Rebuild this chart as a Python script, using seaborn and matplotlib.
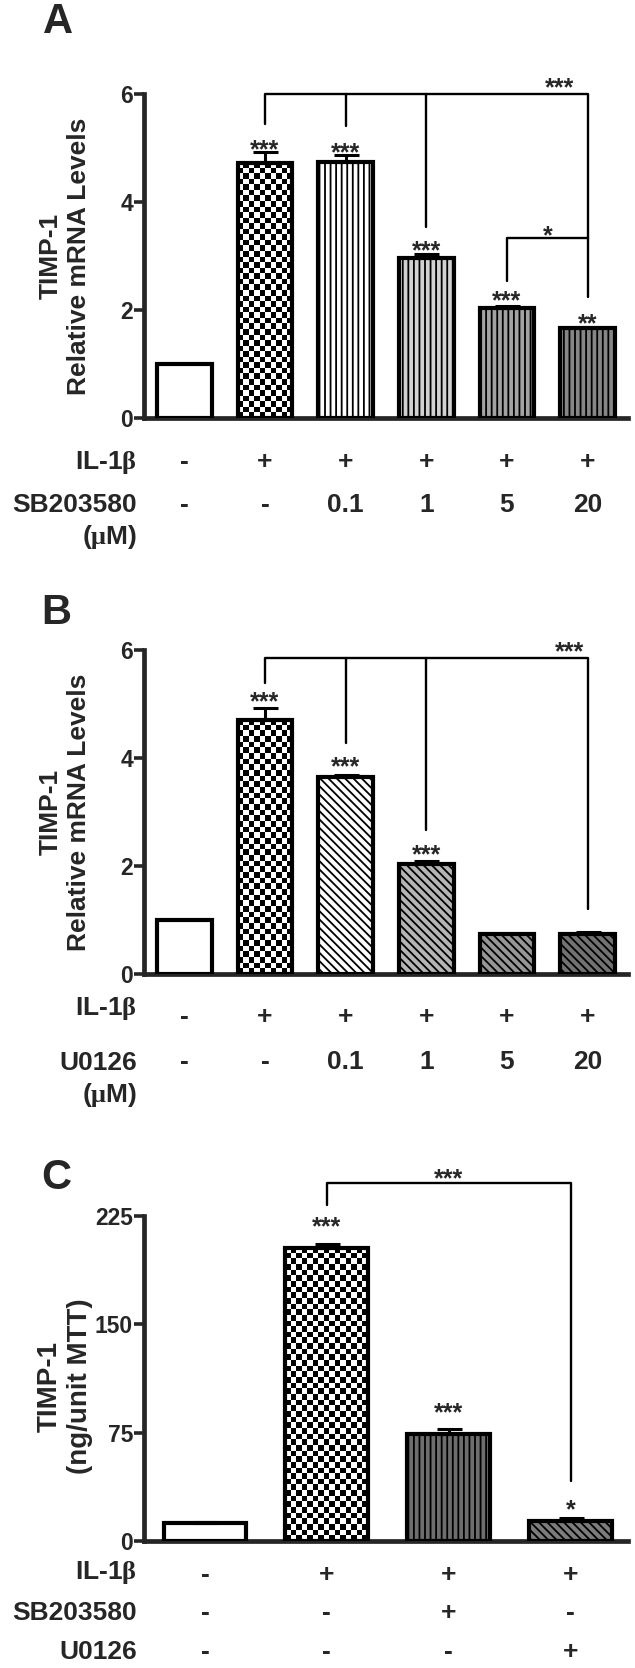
import numpy as np
import matplotlib
matplotlib.use("Agg")
import matplotlib.pyplot as plt
import matplotlib.transforms as mtransforms
import seaborn as sns

# ---- data ----
a_groups = ["ctrl", "IL1b", "SB0.1", "SB1", "SB5", "SB20"]
a_vals = [1.0, 4.73, 4.75, 2.97, 2.04, 1.66]
a_err = [0.0, 0.20, 0.12, 0.06, 0.04, 0.03]
a_il = ["-", "+", "+", "+", "+", "+"]
a_dose = ["-", "-", "0.1", "1", "5", "20"]
a_stars = ["", "***", "***", "***", "***", "**"]
a_star_y = [0, 5.10, 5.04, 3.22, 2.31, 1.88]

b_groups = ["ctrl", "IL1b", "U0.1", "U1", "U5", "U20"]
b_vals = [1.0, 4.71, 3.65, 2.04, 0.74, 0.75]
b_err = [0.0, 0.22, 0.04, 0.06, 0.0, 0.03]
b_il = ["-", "+", "+", "+", "+", "+"]
b_dose = ["-", "-", "0.1", "1", "5", "20"]
b_stars = ["", "***", "***", "***", "", ""]
b_star_y = [0, 5.17, 3.96, 2.33, 0, 0]

c_groups = ["ctrl", "IL1b", "IL1b+SB", "IL1b+U"]
c_vals = [12.5, 203.0, 73.9, 14.1]
c_err = [0.5, 2.3, 3.4, 2.0]
c_il = ["-", "+", "+", "+"]
c_sb = ["-", "-", "+", "-"]
c_u = ["-", "-", "-", "+"]
c_stars = ["", "***", "***", "*"]
c_star_y = [0, 222.7, 93.9, 26.8]

# brackets: (x positions, y positions)
a_brackets = [([1, 1, 5, 5], [5.44, 6.0, 6.0, 2.24]),
              ([2, 2], [6.0, 5.41]),
              ([3, 3], [6.0, 3.54]),
              ([4, 4, 5], [2.54, 3.33, 3.33])]
a_bracket_stars = [(4.65, 6.25, "***"), (4.5, 3.50, "*")]
b_brackets = [([1, 1, 5, 5], [5.38, 5.86, 5.86, 1.21]),
              ([2, 2], [5.86, 4.27]),
              ([3, 3], [5.86, 2.67])]
b_bracket_stars = [(4.77, 6.09, "***")]
c_brackets = [([1, 1, 3, 3], [232.6, 248.0, 248.0, 41.7])]
c_bracket_stars = [(2.0, 255.7, "***")]

# ---- styles ----
a_colors = ["white", "white", "white", "#d2d2d2", "#a3a3a3", "#868686"]
a_hatch = ["", "check", "|||", "|||", "|||", "|||"]
b_colors = ["white", "white", "white", "#b5b5b5", "#969696", "#727272"]
b_hatch = ["", "check", "\\\\\\\\", "\\\\\\\\", "\\\\\\\\", "\\\\\\\\"]
c_colors = ["white", "white", "#6e6e6e", "#7c7c7c"]
c_hatch = ["", "check", "|||", "\\\\\\\\"]

sns.set_style("ticks")
plt.rcParams['font.family'] = ['Liberation Sans', 'DejaVu Sans']
plt.rcParams['font.weight'] = 'bold'
plt.rcParams['mathtext.fontset'] = 'custom'
plt.rcParams['mathtext.rm'] = 'Liberation Serif'
plt.rcParams['hatch.linewidth'] = 1.3
plt.rcParams['hatch.color'] = 'black'

W, H = 635, 1668
fig = plt.figure(figsize=(W / 100, H / 100), dpi=100)


def fx(px):
    return px / W


def fy(py):
    return 1 - py / H


def make_ax(top, bottom, left=144, right=628):
    return fig.add_axes([fx(left), fy(bottom), (right - left) / W, (bottom - top) / H])


def checker(ax, p, sq=5.6):
    x0, y0, w, h = p.get_x(), p.get_y(), p.get_width(), p.get_height()
    (px0, py0), (px1, py1) = ax.transData.transform([(x0, y0), (x0 + w, y0 + h)])
    nx = max(1, int(round((px1 - px0) / sq)))
    ny = max(1, int(round((py1 - py0) / sq)))
    img = np.indices((ny, nx)).sum(axis=0) % 2
    ax.imshow(img, extent=(x0, x0 + w, y0, y0 + h), cmap="gray", vmin=0, vmax=1,
              aspect="auto", interpolation="nearest", zorder=2, origin="lower")
    p.set_facecolor("none")
    p.set_zorder(3)


def panel(ax, groups, vals, err, colors, hatches, ylim, yticks, xlim):
    sns.barplot(x=groups, y=vals, hue=groups, order=groups, hue_order=groups,
                palette=colors, legend=False, width=0.68, saturation=1,
                edgecolor="black", linewidth=3.0, errorbar=None, ax=ax)
    ax.set_xlim(*xlim)
    ax.set_ylim(*ylim)
    ax.set_yticks(yticks)
    for p, h in zip(ax.patches, hatches):
        p.set_zorder(3)
        if h == "check":
            checker(ax, p)
        elif h:
            p.set_hatch(h)
    e = np.array(err)
    idx = np.where(e > 0)[0]
    ax.errorbar(idx, np.array(vals)[idx], yerr=[np.zeros(len(idx)), e[idx]],
                fmt="none", ecolor="black", elinewidth=2.2, capsize=9,
                capthick=2.2, zorder=4)
    sns.despine(ax=ax)
    for s in ("left", "bottom"):
        ax.spines[s].set_linewidth(3.4)
    ax.tick_params(axis="y", length=7, width=2.6, labelsize=16.5, pad=1)
    ax.tick_params(axis="x", bottom=False, labelbottom=False)
    ax.set_xlabel("")
    ax.set_ylabel("")


def star(ax, x, y, s):
    ax.annotate(s, (x, y), xytext=(0, -10.5), textcoords="offset points",
                ha="center", va="baseline", fontsize=18, fontweight="bold",
                annotation_clip=False)


def annotate(ax, stars, star_y, brackets, bracket_stars):
    for i, (s, y) in enumerate(zip(stars, star_y)):
        if s:
            star(ax, i, y, s)
    for xs, ys in brackets:
        ax.plot(xs, ys, color="black", lw=1.7, clip_on=False, zorder=5)
    for x, y, s in bracket_stars:
        star(ax, x, y, s)


def row(ax, label, marks, y_label, y_marks):
    fig.text(fx(137), fy(y_label), label, ha="right", va="center", fontsize=19)
    tr = mtransforms.blended_transform_factory(ax.transData, fig.transFigure)
    for i, m in enumerate(marks):
        ax.text(i, fy(y_marks), m, transform=tr, ha="center", va="center",
                fontsize=19)


# ---- panel A ----
axA = make_ax(94, 418)
panel(axA, a_groups, a_vals, a_err, a_colors, a_hatch, (0, 6), [0, 2, 4, 6], (-0.5, 5.5))
annotate(axA, a_stars, a_star_y, a_brackets, a_bracket_stars)
row(axA, r"IL-1$\mathrm{\beta}$", a_il, 462, 462)
row(axA, "SB203580", a_dose, 505, 505)
fig.text(fx(137), fy(537), r"($\mathrm{\mu}$M)", ha="right", va="center", fontsize=19)
fig.text(fx(65), fy(256), "TIMP-1\nRelative mRNA Levels", rotation=90, ha="center",
         va="center", multialignment="center", fontsize=19)
fig.text(fx(43), fy(22), "A", ha="left", va="center", fontsize=30)

# ---- panel B ----
axB = make_ax(650, 974)
panel(axB, b_groups, b_vals, b_err, b_colors, b_hatch, (0, 6), [0, 2, 4, 6], (-0.5, 5.5))
annotate(axB, b_stars, b_star_y, b_brackets, b_bracket_stars)
row(axB, r"IL-1$\mathrm{\beta}$", b_il, 1008, 1017)
row(axB, "U0126", b_dose, 1063, 1062)
fig.text(fx(137), fy(1095), r"($\mathrm{\mu}$M)", ha="right", va="center", fontsize=19)
fig.text(fx(65), fy(812), "TIMP-1\nRelative mRNA Levels", rotation=90, ha="center",
         va="center", multialignment="center", fontsize=19)
fig.text(fx(41), fy(613), "B", ha="left", va="center", fontsize=30)

# ---- panel C ----
axC = make_ax(1216, 1541)
panel(axC, c_groups, c_vals, c_err, c_colors, c_hatch, (0, 225), [0, 75, 150, 225], (-0.5, 3.47))
annotate(axC, c_stars, c_star_y, c_brackets, c_bracket_stars)
row(axC, r"IL-1$\mathrm{\beta}$", c_il, 1573, 1575)
row(axC, "SB203580", c_sb, 1613, 1613)
row(axC, "U0126", c_u, 1652, 1652)
fig.text(fx(65), fy(1386), "TIMP-1\n(ng/unit MTT)", rotation=90, ha="center",
         va="center", multialignment="center", fontsize=20)
fig.text(fx(41), fy(1178), "C", ha="left", va="center", fontsize=30)

fig.savefig("out.png", dpi=100)
